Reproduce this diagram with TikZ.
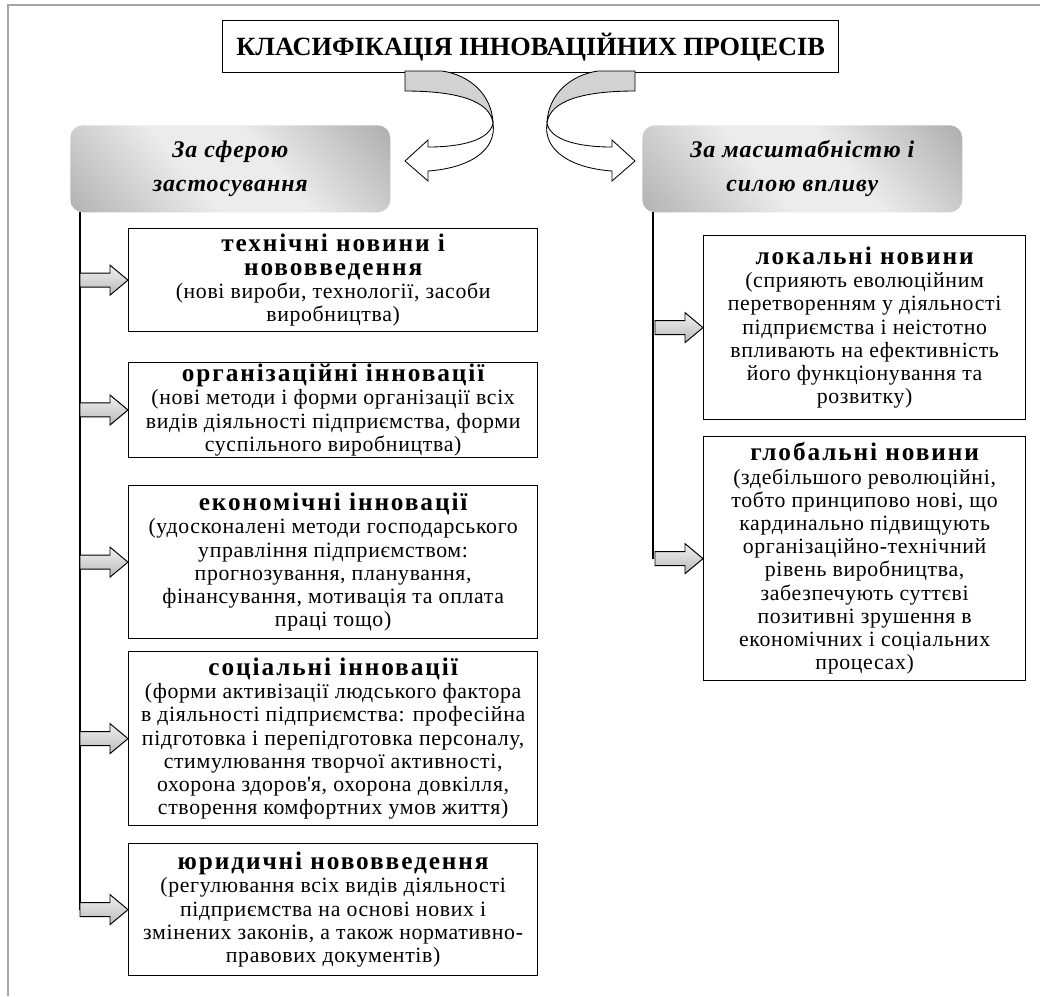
\documentclass[tikz,border=0pt]{standalone}
\usepackage{fontspec}
\setmainfont{Liberation Serif}
\usetikzlibrary{calc}

% Fonts
\newcommand{\bodyfont}{\fontsize{15.5}{16.5}\selectfont\addfontfeature{LetterSpace=3}}
\newcommand{\hd}[1]{{\fontsize{18}{18}\selectfont\bfseries\addfontfeature{LetterSpace=7.5}#1}}
\newcommand{\titlefont}{\fontsize{18.7}{20}\selectfont\bfseries}
\newcommand{\headfont}{\fontsize{17}{24}\selectfont\bfseries\itshape\addfontfeature{LetterSpace=4}}

% Header gradient
\pgfdeclarehorizontalshading{hdrgrad}{100bp}{color(0bp)=(gray!85); color(42bp)=(gray!15); color(58bp)=(gray!15); color(100bp)=(gray!90)}

\def\u{0.025cm}

\tikzset{
  infobox/.style={draw=black, line width=0.9pt, fill=white, align=center, anchor=north west, inner sep=1pt, font=\bodyfont},
  headbox/.style={rounded corners=9pt, shading=hdrgrad, shading angle=40, align=center, anchor=north west, font=\headfont, minimum width={320*\u}, minimum height={87*\u}},
  titlebox/.style={draw=black, line width=0.9pt, fill=white, anchor=north west, font=\titlefont},
  spine/.style={line width=0.9pt},
  blockarr/.pic={
    \shade[top color=gray!10, bottom color=gray!55, draw=black, line width=0.7pt]
      (0,0) -- (-18,-15) -- (-18,-7) -- (-48,-7) -- (-48,7) -- (-18,7) -- (-18,15) -- cycle;
  }
}

\begin{document}
\begin{tikzpicture}[x=0.025cm, y=-0.025cm]
\useasboundingbox (0,0) rectangle (1040,996);

% Page frame
\draw[gray!70, line width=1.4pt] (8,996) -- (8,5) -- (1040,5);

% Title
\node[titlebox, minimum width={616*\u}, minimum height={52*\u}] (title) at (222,20)
  {КЛАСИФІКАЦІЯ ІННОВАЦІЙНИХ ПРОЦЕСІВ};

% Curved arrows (left one, then its mirror image)
\def\uturn{
  \filldraw[fill=gray!35, draw=black, line width=0.6pt] (405,71) -- (405,91)
    .. controls (455,91) and (490,100) .. (493,123)
    .. controls (492,95) and (470,75) .. (442,71) -- cycle;
  \filldraw[fill=white, draw=black, line width=0.6pt] (493,123)
    .. controls (490,140) and (462,147) .. (428,147) -- (428,140) -- (405,161)
    -- (428,181) -- (428,171) .. controls (470,168) and (497,150) .. (493,123) -- cycle;
}
\uturn
\begin{scope}[shift={(1040,0)}, xscale=-1]
\uturn
\end{scope}

% Headers
\node[headbox] (sphere) at (70,125) {За сферою\\застосування};
\node[headbox] (scale) at (642,125) {За масштабністю і\\силою впливу};

% Left column
\node[infobox, minimum width={409*\u}, minimum height={103*\u}] (tech) at (128,228)
  {\hd{технічні новини і}\\\hd{нововведення}\\
   (нові вироби, технології, засоби\\виробництва)};
\node[infobox, minimum width={409*\u}, minimum height={79*\u}] (org) at (128,362)
  {\hd{організаційні інновації}\\
   (нові методи і форми організації всіх\\видів діяльності підприємства, форми\\суспільного виробництва)};
\node[infobox, minimum width={409*\u}, minimum height={153*\u}] (econ) at (128,485)
  {\hd{економічні інновації}\\
   (удосконалені методи господарського\\управління підприємством:\\прогнозування, планування,\\фінансування, мотивація та оплата\\праці тощо)};
\node[infobox, minimum width={409*\u}, minimum height={174*\u}] (soc) at (128,651)
  {\hd{соціальні інновації}\\
   (форми активізації людського фактора\\в діяльності підприємства: професійна\\підготовка і перепідготовка персоналу,\\стимулювання творчої активності,\\охорона здоров\textquotesingle я, охорона довкілля,\\створення комфортних умов життя)};
\node[infobox, minimum width={409*\u}, minimum height={132*\u}] (law) at (128,843)
  {\hd{юридичні нововведення}\\
   (регулювання всіх видів діяльності\\підприємства на основі нових і\\змінених законів, а також нормативно-\\правових документів)};

% Right column
\node[infobox, minimum width={322*\u}, minimum height={184*\u}] (local) at (703,235)
  {\hd{локальні новини}\\
   (сприяють еволюційним\\перетворенням у діяльності\\підприємства і неістотно\\впливають на ефективність\\його функціонування та\\розвитку)};
\node[infobox, minimum width={322*\u}, minimum height={244*\u}] (global) at (703,436)
  {\hd{глобальні новини}\\
   (здебільшого революційні,\\тобто принципово нові, що\\кардинально підвищують\\організаційно-технічний\\рівень виробництва,\\забезпечують суттєві\\позитивні зрушення в\\економічних і соціальних\\процесах)};

% Spines
\coordinate (lspine) at (80,212);
\coordinate (rspine) at (653,212);
\draw[spine] (lspine) -- (lspine |- law.west);
\draw[spine] (rspine) -- (rspine |- global.west);

% Block arrows
\foreach \n in {tech,org,econ,soc,law,local,global}
  \pic at (\n.west) {blockarr};
\end{tikzpicture}
\end{document}
